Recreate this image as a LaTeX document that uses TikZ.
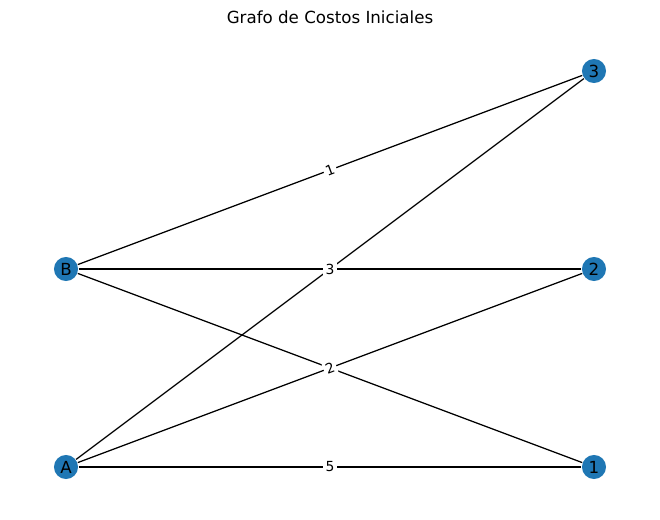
\documentclass[tikz,border=0pt]{standalone}
\usepackage{fontspec}
\setmainfont{DejaVu Sans}
\usepackage{tikz}
\definecolor{nxblue}{HTML}{1F77B4}

\begin{document}
\begin{tikzpicture}[x=0.72pt,y=-0.72pt,line width=0.9pt,
  vertex/.style={circle,fill=nxblue,minimum size=17.3pt,inner sep=0pt,font=\fontsize{12}{12}\selectfont},
  cost/.style={fill=white,inner sep=1.5pt,font=\fontsize{10}{10}\selectfont,sloped}]
\useasboundingbox (0,0) rectangle (660,520);
\node at (330,17) {\fontsize{12}{12}\selectfont Grafo de Costos Iniciales};
\node[vertex] (A) at (66,467) {A};
\node[vertex] (B) at (66,269) {B};
\node[vertex] (1) at (594,467) {1};
\node[vertex] (2) at (594,269) {2};
\node[vertex] (3) at (594,71) {3};
\path[draw] (A) -- (3);
\path[draw] (B) -- (1);
\path[draw] (B) -- node[cost] {1} (3);
\path[draw] (B) -- node[cost] {3} (2);
\path[draw] (A) -- node[cost] {2} (2);
\path[draw] (A) -- node[cost] {5} (1);
\end{tikzpicture}
\end{document}
